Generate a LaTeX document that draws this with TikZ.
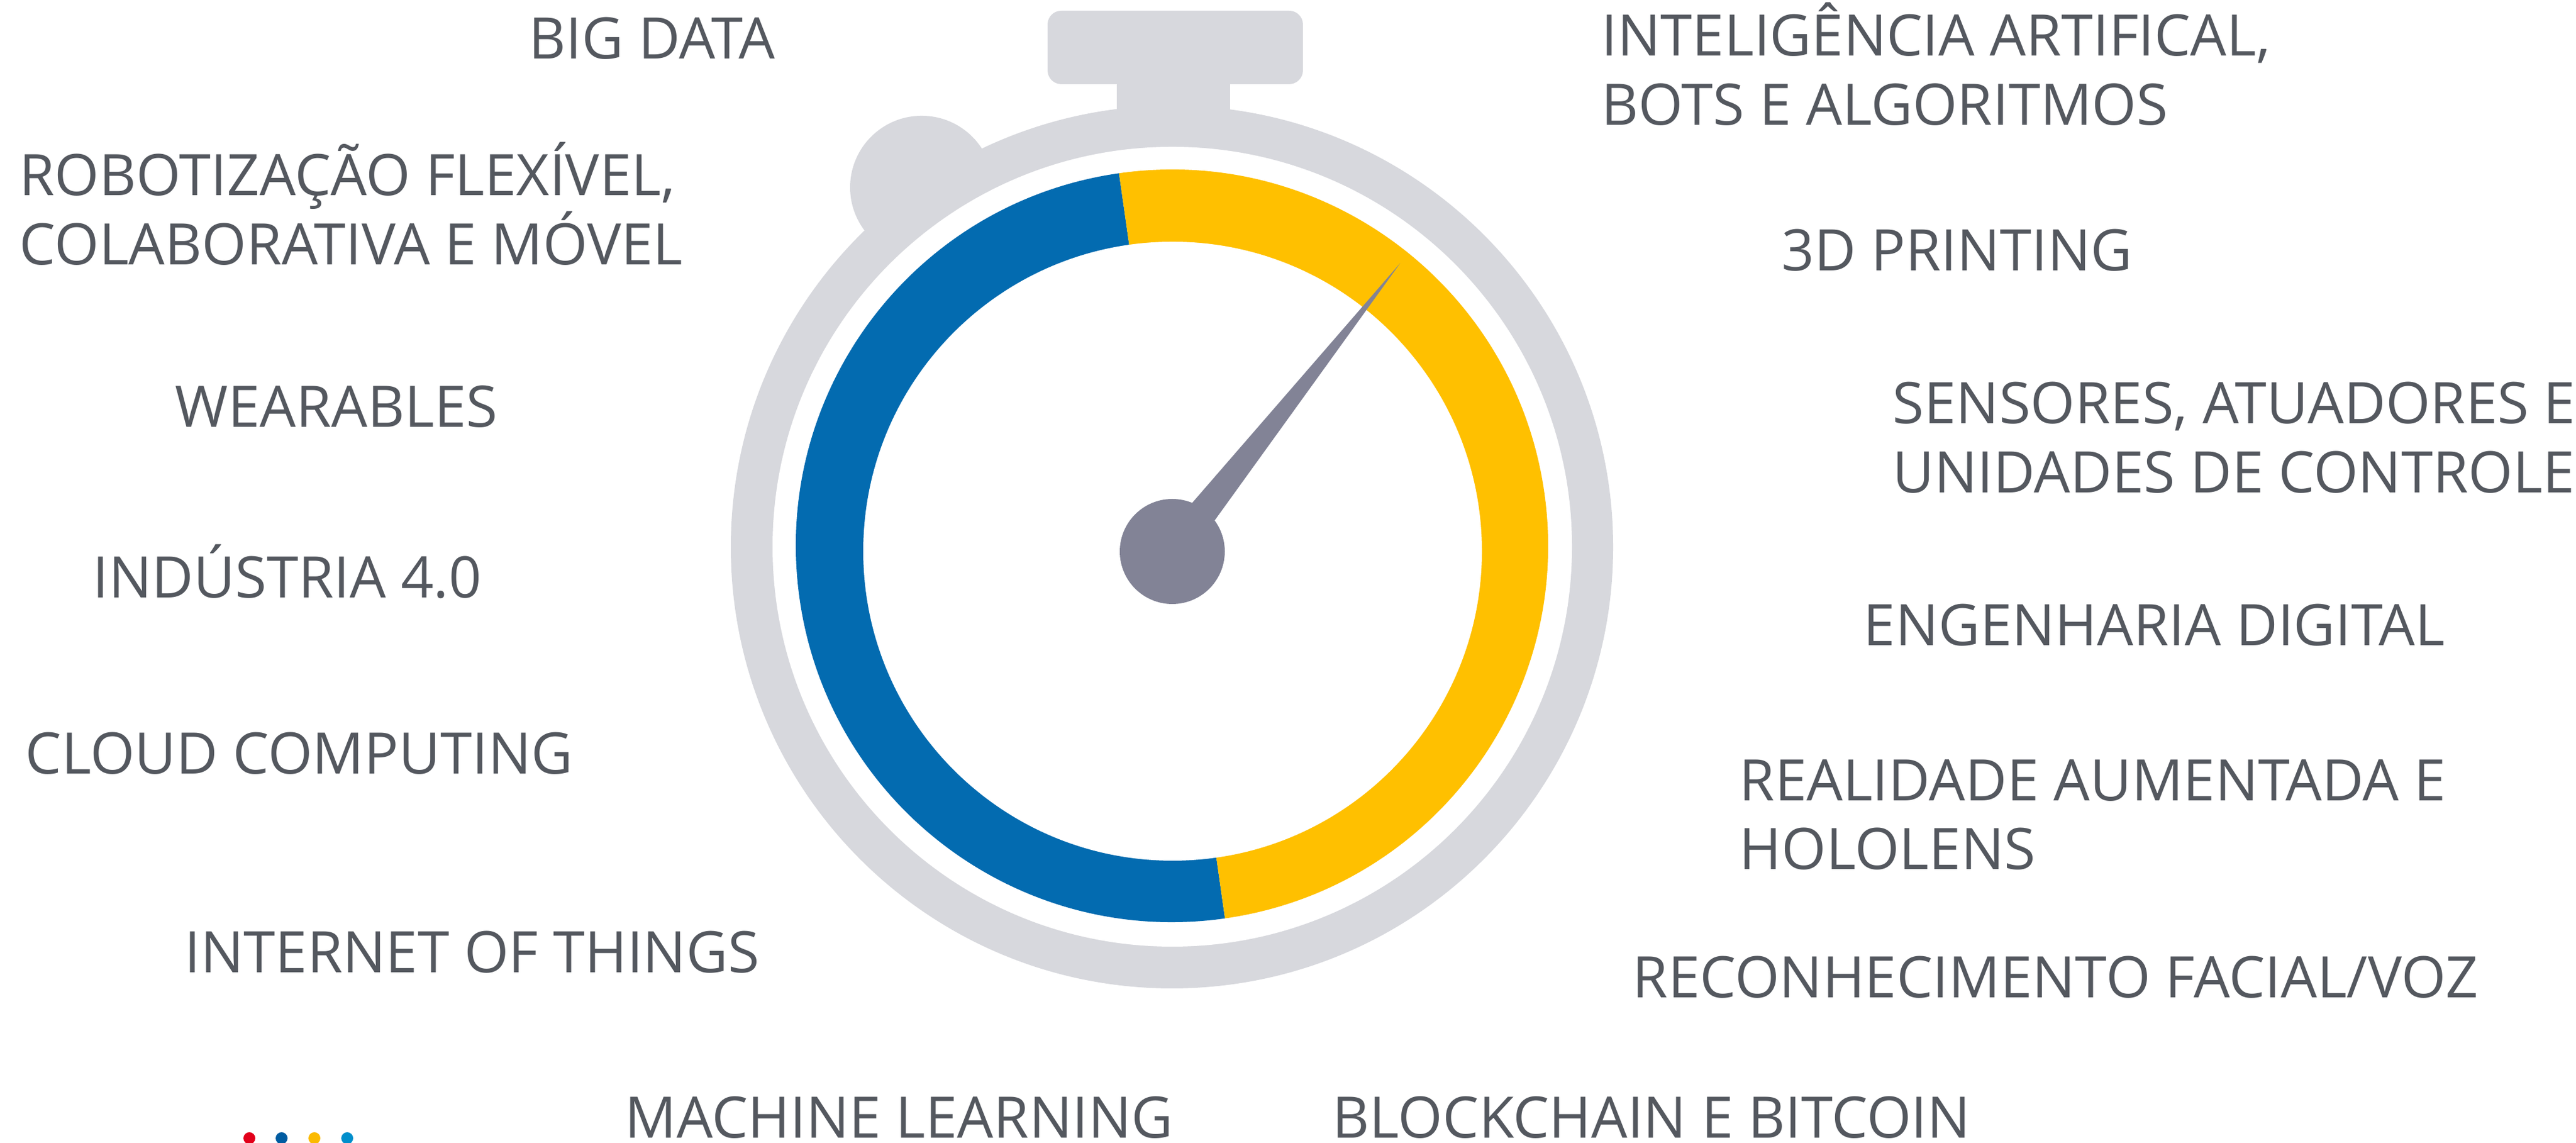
\documentclass[tikz,border=0pt]{standalone}
\usepackage{fontspec}
\setmainfont{Open Sans}
\definecolor{watchgray}{HTML}{D7D8DD}
\definecolor{ringblue}{HTML}{036BB0}
\definecolor{ringyellow}{HTML}{FFC000}
\definecolor{needlegray}{HTML}{828396}
\definecolor{labelgray}{HTML}{54585F}
\definecolor{dotred}{HTML}{E2001A}
\definecolor{dotnavy}{HTML}{005CA1}
\definecolor{dotyellow}{HTML}{FBBA00}
\definecolor{dotcyan}{HTML}{008FCC}
\tikzset{
  tech/.style={anchor=base west, inner sep=0pt, text=labelgray,
    font=\fontsize{27.3pt}{33pt}\selectfont},
  techtwo/.style={tech, align=left},
}

\begin{document}
\begin{tikzpicture}
    \useasboundingbox (0, 0) rectangle (43.18, 19.15);
    \coordinate (ringc) at (19.645, 10.005);
    % Watch body
    \fill[watchgray] (15.45, 16.01) circle (1.2);
    \fill[watchgray] (18.72, 16) rectangle (20.62, 18.3);
    \fill[watchgray, rounded corners=0.23cm] (17.56, 17.74) rectangle (21.84, 18.97);
    \fill[watchgray] (19.645, 9.985) circle (7.395);
    \fill[white] (19.65, 9.99) circle (6.7);
    % Ring
    \fill[ringblue] (ringc) -- +(98.1:6.305) arc[start angle=98.1, end angle=278.1, radius=6.305] -- cycle;
    \fill[ringyellow] (ringc) -- +(98.1:6.305) arc[start angle=98.1, end angle=-81.9, radius=6.305] -- cycle;
    \fill[white] (19.655, 9.915) circle (5.185);
    % Needle
    \fill[needlegray] (19.65, 9.91) circle (0.88);
    \fill[needlegray] (19.98, 10.72) -- (23.47, 14.74) -- (20.36, 10.43) -- (19.65, 9.91) -- cycle;
    % Labels left
    \node (bigdata) [tech] at (8.86, 18.16) {BIG DATA};
    \node (robot) [techtwo] at (0.32, 14.71) {ROBOTIZAÇÃO FLEXÍVEL,\\COLABORATIVA E MÓVEL};
    \node (wearables) [tech] at (2.93, 11.99) {WEARABLES};
    \node (industria) [tech] at (1.55, 9.13) {INDÚSTRIA 4.0};
    \node (cloud) [tech] at (0.42, 6.18) {CLOUD COMPUTING};
    \node (iot) [tech] at (3.09, 2.85) {INTERNET OF THINGS};
    \node (machine) [tech] at (10.47, 0.08) {MACHINE LEARNING};
    % Labels right
    \node (bots) [techtwo] at (26.84, 17.05) {INTELIGÊNCIA ARTIFICAL,\\BOTS E ALGORITMOS};
    \node (printing) [tech] at (29.86, 14.61) {3D PRINTING};
    \node (sensores) [techtwo] at (31.72, 10.89) {SENSORES, ATUADORES E\\UNIDADES DE CONTROLE};
    \node (engenharia) [tech] at (31.23, 8.33) {ENGENHARIA DIGITAL};
    \node (realidade) [techtwo] at (29.15, 4.58) {REALIDADE AUMENTADA E\\HOLOLENS};
    \node (reconhecimento) [tech] at (27.36, 2.43) {RECONHECIMENTO FACIAL/VOZ};
    \node (blockchain) [tech] at (22.33, 0.08) {BLOCKCHAIN E BITCOIN};
    % Dots
    \foreach \dotx/\dotcol in {4.18/dotred, 4.72/dotnavy, 5.27/dotyellow, 5.82/dotcyan}
      \fill[\dotcol] (\dotx, 0.08) circle (0.1);
\end{tikzpicture}
\end{document}
